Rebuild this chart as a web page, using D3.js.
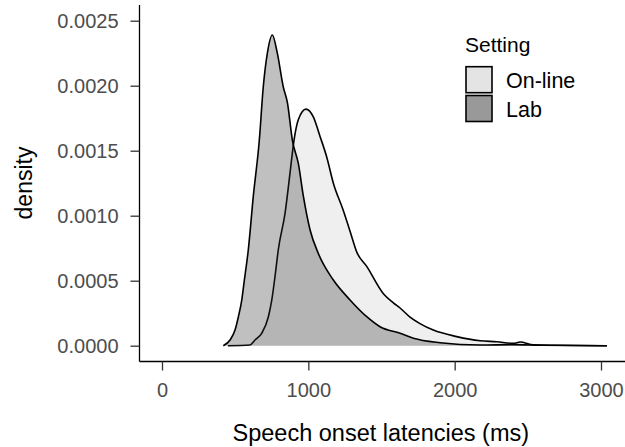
<!DOCTYPE html>
<html>
<head>
<meta charset="utf-8">
<script src="https://cdn.jsdelivr.net/npm/d3@7"></script>
<style>
  body { margin: 0; background: #fff; }
  svg { font-family: "Liberation Sans", Arial, sans-serif; }
</style>
</head>
<body>
<div id="canvas"></div>
<script>
// latency (ms) / density pairs
const labLatency = [419, 465, 499, 522, 545, 560, 590, 624, 665, 692, 720, 754, 788, 829, 857, 891, 932, 966, 1012, 1068, 1171, 1285, 1399, 1490, 1627, 1718, 1900, 2174, 2400, 2600, 3040];
const labDensity = [0, 0.000044, 0.00012, 0.000223, 0.00035, 0.00048, 0.00074, 0.00115, 0.00158, 0.00199, 0.00225, 0.00239, 0.00225, 0.00199, 0.00187, 0.00158, 0.0014, 0.00115, 0.00089, 0.00071, 0.000505, 0.000352, 0.000223, 0.000146, 0.000095, 0.000057, 0.000023, 0.000005, 0.000008, 0.000003, 0];

const onlineLatency = [450, 600, 636, 681, 727, 750, 772, 795, 841, 875, 902, 932, 984, 1034, 1080, 1126, 1171, 1239, 1285, 1331, 1399, 1513, 1581, 1627, 1695, 1763, 1854, 2014, 2174, 2288, 2402, 2447, 2538, 2700, 3040];
const onlineDensity = [0, 0.000005, 0.000044, 0.000095, 0.000223, 0.00035, 0.00053, 0.00074, 0.00102, 0.00133, 0.00158, 0.00174, 0.00182, 0.00176, 0.00161, 0.00145, 0.00125, 0.00104, 0.00088, 0.00072, 0.00061, 0.0004, 0.00033, 0.00029, 0.00022, 0.00017, 0.00012, 0.00007, 0.000038, 0.00003, 0.000018, 0.000028, 0.000006, 0.000003, 0];

const xTicks = [0, 1000, 2000, 3000];
const yTicks = [0, 0.0005, 0.0010, 0.0015, 0.0020, 0.0025];
const settings = ["On-line", "Lab"];

const w = 625, h = 447;
const panel = { left: 139.5, right: 625, top: 5, bottom: 361.5 };

const svg = d3.select("#canvas").append("svg")
  .attr("width", w).attr("height", h);

const x = d3.scaleLinear().domain([0, 3000]).range([162, 601]);
const y = d3.scaleLinear().domain([0, 0.0025]).range([345.7, 20.7]);

const series = [
  { name: "On-line", xs: onlineLatency, ys: onlineDensity, fill: "#cccccc", key: "#e4e4e4" },
  { name: "Lab", xs: labLatency, ys: labDensity, fill: "#333333", key: "#999999" }
];

const area = d3.area()
  .x(d => x(d[0])).y0(y(0)).y1(d => y(d[1]))
  .curve(d3.curveMonotoneX);
const line = d3.line()
  .x(d => x(d[0])).y(d => y(d[1]))
  .curve(d3.curveMonotoneX);

series.forEach(s => {
  const pts = s.xs.map((v, i) => [v, s.ys[i]]);
  svg.append("path").attr("d", area(pts))
    .attr("fill", s.fill).attr("fill-opacity", 0.31);
  svg.append("path").attr("d", line(pts))
    .attr("fill", "none").attr("stroke", "#000").attr("stroke-width", 1.6);
});

// axes
const xAxis = svg.append("g").attr("transform", "translate(0," + panel.bottom + ")")
  .call(d3.axisBottom(x).tickValues(xTicks).tickSize(9).tickPadding(12).tickFormat(d3.format("d")));
xAxis.select(".domain").attr("d", "M" + panel.left + ",0H" + panel.right);

const yAxis = svg.append("g").attr("transform", "translate(" + panel.left + ",0)")
  .call(d3.axisLeft(y).tickValues(yTicks).tickSize(9).tickPadding(12).tickFormat(d3.format(".4f")));
yAxis.select(".domain").attr("d", "M0," + panel.top + "V" + panel.bottom);

[xAxis, yAxis].forEach(g => {
  g.select(".domain").attr("stroke", "#000").attr("stroke-width", 1.3);
  g.selectAll(".tick line").attr("stroke", "#333").attr("stroke-width", 1.3);
  g.selectAll(".tick text").attr("fill", "#4d4d4d").style("font-size", "20px")
    .style("font-family", "'Liberation Sans', Arial, sans-serif");
});

svg.append("text")
  .attr("x", 380.8).attr("y", 441)
  .attr("text-anchor", "middle").style("font-size", "23.5px")
  .text("Speech onset latencies (ms)");

svg.append("text")
  .attr("transform", "translate(32,183) rotate(-90)")
  .attr("text-anchor", "middle").style("font-size", "23px")
  .text("density");

// legend
const legend = svg.append("g");
legend.append("text").attr("x", 465).attr("y", 51.7)
  .style("font-size", "21px").text("Setting");
series.forEach((s, i) => {
  const top = 66.7 + i * 28.8;
  legend.append("rect")
    .attr("x", 466).attr("y", top).attr("width", 26).attr("height", 26)
    .attr("fill", s.key).attr("stroke", "#000").attr("stroke-width", 1.6);
  legend.append("text").attr("x", 506).attr("y", top + 21.5)
    .style("font-size", "21.5px").text(settings[i]);
});
</script>
</body>
</html>
